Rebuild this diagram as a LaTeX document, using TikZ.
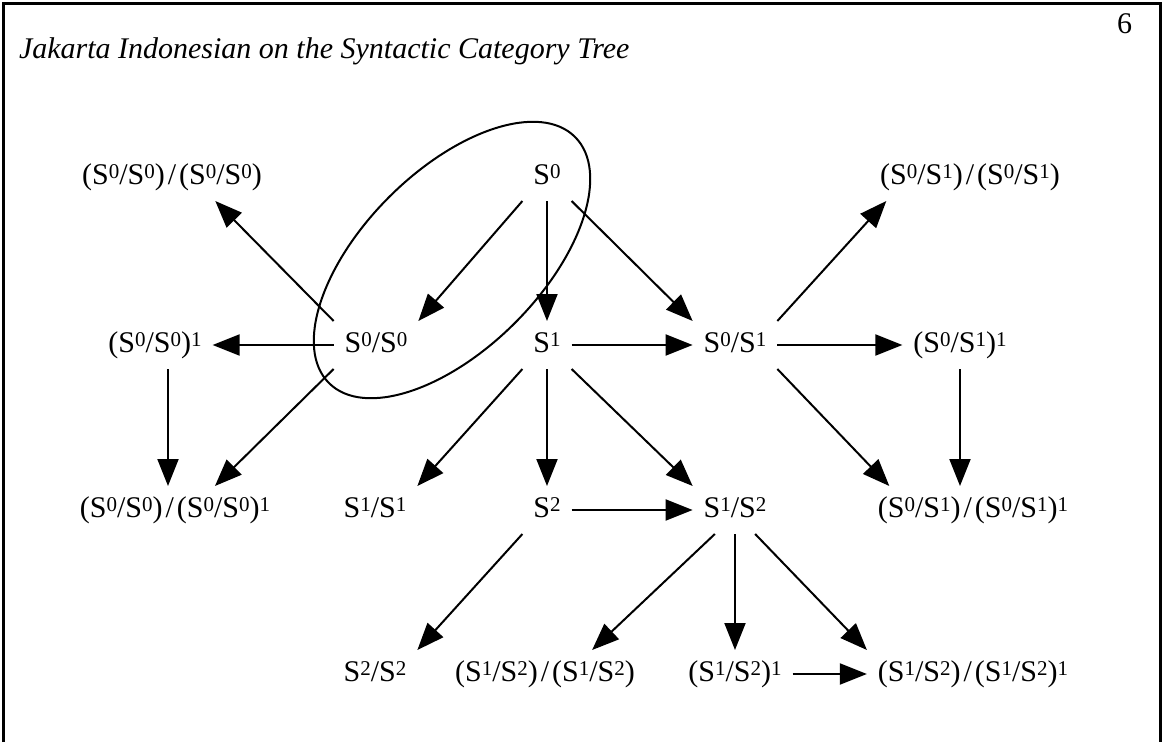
\documentclass[tikz,border=0pt]{standalone}
\usepackage{fontspec}
\setmainfont{Liberation Serif}
\usepackage{tikz}
\usetikzlibrary{arrows.meta}

\newcommand\catfont{\fontsize{30}{36}\selectfont}
\newcommand\upn[1]{\raisebox{0.19em}{\fontsize{21}{21}\selectfont #1}}
\newcommand\ovr{\kern3pt/\kern3pt}

\tikzset{
  cat/.style={font=\catfont, inner xsep=10pt, inner ysep=9pt, text height=21pt, text depth=7pt},
}

\begin{document}
\begin{tikzpicture}[x=1pt, y=-1pt, >={Triangle[length=27pt,width=21pt]}, line width=2pt]
    \useasboundingbox (0,0) rectangle (1164,742);
    % Frame, title, page number
    \draw [line width=3pt] (3,742) -- (3,3) -- (1160,3) -- (1160,742);
    \node [font=\catfont\itshape, anchor=base west, inner sep=0pt] (title) at (18,58)
        {Jakarta Indonesian on the Syntactic Category Tree};
    \node [font=\catfont, anchor=base east, inner sep=0pt] (page) at (1133,33) {6};

    % Nodes {row 1, row 2, row 3, row 4}
    \node [cat] (SS00)  at (172,177) {(S\upn{0}/S\upn{0})\ovr(S\upn{0}/S\upn{0})};
    \node [cat] (S0)    at (547,177) {S\upn{0}};
    \node [cat] (SS01)  at (970,177) {(S\upn{0}/S\upn{1})\ovr(S\upn{0}/S\upn{1})};

    \node [cat] (S001)  at (155,345) {(S\upn{0}/S\upn{0})\upn{1}};
    \node [cat] (S00)   at (376,345) {S\upn{0}/S\upn{0}};
    \node [cat] (S1)    at (547,345) {S\upn{1}};
    \node [cat] (S01)   at (735,345) {S\upn{0}/S\upn{1}};
    \node [cat] (S011)  at (960,345) {(S\upn{0}/S\upn{1})\upn{1}};

    \node [cat] (SSS00) at (175,510) {(S\upn{0}/S\upn{0})\ovr(S\upn{0}/S\upn{0})\upn{1}};
    \node [cat] (S11)   at (375,510) {S\upn{1}/S\upn{1}};
    \node [cat] (S2)    at (547,510) {S\upn{2}};
    \node [cat] (S12)   at (735,510) {S\upn{1}/S\upn{2}};
    \node [cat] (SSS01) at (973,510) {(S\upn{0}/S\upn{1})\ovr(S\upn{0}/S\upn{1})\upn{1}};

    \node [cat] (S22)   at (375,674) {S\upn{2}/S\upn{2}};
    \node [cat] (SS12)  at (545,674) {(S\upn{1}/S\upn{2})\ovr(S\upn{1}/S\upn{2})};
    \node [cat] (S121)  at (735,674) {(S\upn{1}/S\upn{2})\upn{1}};
    \node [cat] (SSS12) at (973,674) {(S\upn{1}/S\upn{2})\ovr(S\upn{1}/S\upn{2})\upn{1}};

    % Ring round S0 and S0/S0
    \draw [rotate around={45:(452,260)}] (452,260) ellipse [x radius=174, y radius=89];

    % Paths
    \path [->] (S0.south west)  edge (S00.north east);
    \path [->] (S0)             edge (S1);
    \path [->] (S0.south east)  edge (S01.north west);

    \path [->] (S00.north west) edge (SS00.-29);
    \path [->] (S00)            edge (S001);
    \path [->] (S00.south west) edge (SSS00.31);
    \path [->] ([xshift=13pt]S001.south) edge ([xshift=13pt]S001.south |- SSS00.north);

    \path [->] (S1)             edge (S01);
    \path [->] (S1.south west)  edge (S11.north east);
    \path [->] (S1)             edge (S2);
    \path [->] (S1.south east)  edge (S12.north west);

    \path [->] (S01.north east) edge (SS01.196);
    \path [->] (S01)            edge (S011);
    \path [->] (S01.south east) edge (SSS01.164);
    \path [->] (S011.south)     edge (S011.south |- SSS01.north);

    \path [->] (S2)             edge (S12);
    \path [->] (S2.south west)  edge (S22.north east);
    \path [->] (S12.-130)       edge (SS12.27);
    \path [->] (S12)            edge (S121);
    \path [->] (S12.-50)        edge (SSS12.north west);
    \path [->] (S121)           edge (SSS12);

\end{tikzpicture}
\end{document}
